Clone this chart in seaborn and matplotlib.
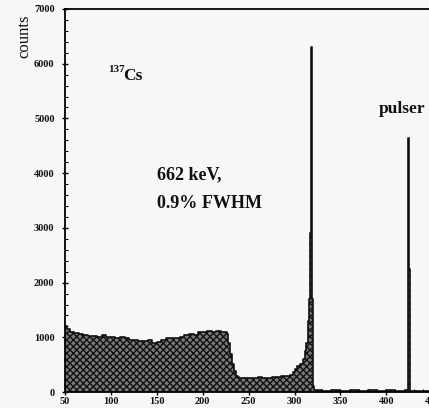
import matplotlib
matplotlib.use("Agg")
import matplotlib.pyplot as plt
from matplotlib.ticker import MultipleLocator
import pandas as pd
import seaborn as sns

# -----------------------------
# Spectrum (channel, counts)
# -----------------------------
channel = [
    50, 52, 55, 60, 65, 70, 75, 80, 85, 90, 95, 100, 105, 110, 115, 120,
    125, 130, 135, 140, 145, 150, 155, 160, 165, 170, 175, 180, 185, 190,
    195, 200, 205, 210, 215, 220, 226, 228, 230, 232, 234, 236, 238, 240,
    245, 250, 255, 260, 265, 270, 275, 280, 285, 290, 295, 298, 300, 303,
    306, 309, 311, 313, 315, 316, 317, 318, 319, 320, 321, 330, 340, 350,
    360, 370, 380, 390, 400, 410, 420, 424, 425, 426, 435, 450,
]
counts = [
    1200, 1150, 1100, 1080, 1060, 1040, 1030, 1020, 1000, 1040, 1010, 1000,
    990, 1010, 980, 960, 950, 940, 930, 960, 900, 920, 960, 980, 990, 980,
    1010, 1040, 1060, 1050, 1090, 1100, 1120, 1100, 1110, 1090, 1060, 900,
    700, 520, 380, 300, 270, 250, 260, 255, 250, 270, 260, 260, 270, 280,
    290, 300, 320, 360, 420, 480, 520, 600, 750, 900, 1300, 1700, 2900,
    6300, 1700, 120, 30, 25, 30, 25, 30, 25, 30, 25, 30, 25, 30, 4650,
    2250, 25, 25, 25,
]

df = pd.DataFrame({"channel": channel, "counts": counts})

bg = "#f7f7f7"

sns.set_style("ticks")
plt.rcParams["font.family"] = ["Liberation Serif", "DejaVu Serif"]
plt.rcParams["font.weight"] = "bold"
plt.rcParams["text.color"] = "#111111"
plt.rcParams["xtick.color"] = "black"
plt.rcParams["ytick.color"] = "black"
plt.rcParams["xtick.labelcolor"] = "#111111"
plt.rcParams["ytick.labelcolor"] = "#111111"
plt.rcParams["hatch.linewidth"] = 1.0

fig = plt.figure(figsize=(4.29, 4.08), dpi=100, facecolor=bg)
ax = fig.add_axes([0.1515, 0.039, 0.856, 0.939])
ax.set_facecolor(bg)

# hatched area under the spectrum
ax.fill_between(
    df["channel"], df["counts"], step="post",
    facecolor="#7a7a7a", hatch="xxxxx", edgecolor="#111111", linewidth=0
)

sns.lineplot(
    data=df, x="channel", y="counts",
    drawstyle="steps-post", color="#111111", linewidth=1.2, ax=ax
)

ax.set_xlim(50, 450)
ax.set_ylim(0, 7000)
ax.set_xlabel("")
ax.set_ylabel("")

ax.xaxis.set_major_locator(MultipleLocator(50))
ax.xaxis.set_minor_locator(MultipleLocator(10))
ax.yaxis.set_major_locator(MultipleLocator(1000))
ax.yaxis.set_minor_locator(MultipleLocator(200))

ax.tick_params(which="major", direction="inout", length=5, width=1,
               labelsize=7.5)
ax.tick_params(which="minor", direction="in", length=2.5, width=0.8)
ax.tick_params(axis="y", which="major", pad=5)
ax.tick_params(axis="x", which="major", pad=1)

for side in ["left", "bottom", "top", "right"]:
    ax.spines[side].set_linewidth(1.3)
    ax.spines[side].set_color("black")

# -----------------------------
# Annotations
# -----------------------------
ax.text(97, 5850, "137", fontsize=8, fontweight="bold", va="baseline")
ax.text(113, 5700, "Cs", fontsize=12.5, fontweight="bold", va="baseline")

ax.text(150, 3890, "662 keV,", fontsize=13, fontweight="bold", va="baseline")
ax.text(150, 3360, "0.9% FWHM", fontsize=13, fontweight="bold", va="baseline")

ax.text(392, 5100, "pulser", fontsize=12.5, fontweight="bold", va="baseline")

fig.text(0.056, 0.912, "counts", rotation=90, fontsize=12,
         fontweight="normal", ha="center", va="center")

fig.savefig("out.png", dpi=100, facecolor=bg)
